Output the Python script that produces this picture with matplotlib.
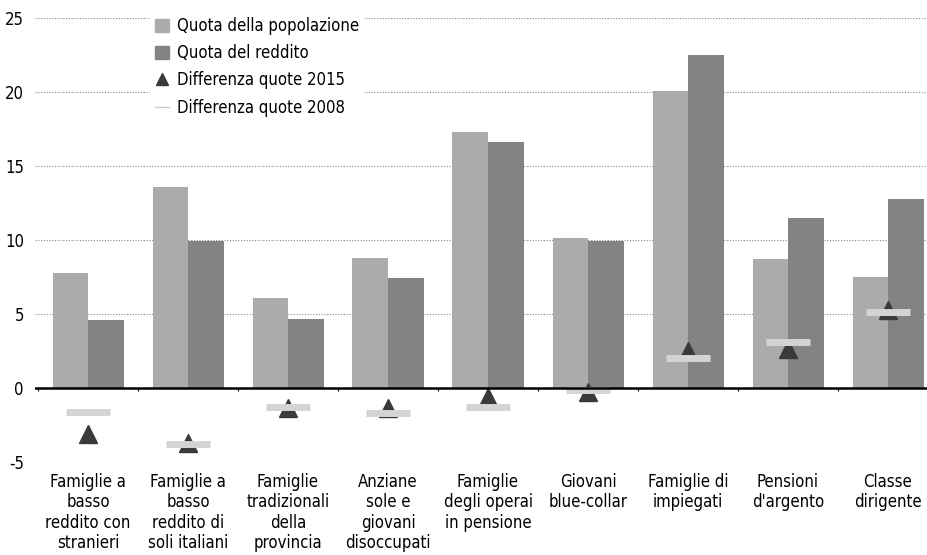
import numpy as np
import matplotlib.pyplot as plt
from matplotlib.lines import Line2D
from matplotlib.patches import Patch

plt.rcParams['font.family'] = ['DejaVu Sans']
plt.rcParams['font.stretch'] = 'condensed'

# data
categories = ["Famiglie a\nbasso\nreddito con\nstranieri",
              "Famiglie a\nbasso\nreddito di\nsoli italiani",
              "Famiglie\ntradizionali\ndella\nprovincia",
              "Anziane\nsole e\ngiovani\ndisoccupati",
              "Famiglie\ndegli operai\nin pensione",
              "Giovani\nblue-collar",
              "Famiglie di\nimpiegati",
              "Pensioni\nd'argento",
              "Classe\ndirigente"]
quota_pop = [7.75, 13.55, 6.05, 8.8, 17.3, 10.15, 20.05, 8.7, 7.5]
quota_redd = [4.6, 9.9, 4.65, 7.45, 16.65, 9.95, 22.5, 11.5, 12.75]
diff_2015 = [-3.1, -3.7, -1.35, -1.35, -0.6, -0.3, 2.5, 2.65, 5.25]
diff_2008 = [-1.6, -3.8, -1.3, -1.7, -1.3, -0.15, 2.05, 3.1, 5.15]

col_pop = "#ababab"
col_redd = "#838383"

fig = plt.figure(figsize=(9.27, 5.55), dpi=100)
ax = fig.add_axes([35 / 927, 1 - 462 / 555, 1 - 35 / 927, (462 - 18) / 555])

x = np.arange(len(categories))
w = 0.355
ax.bar(x - w / 2, quota_pop, width=w, color=col_pop, zorder=2)
ax.bar(x + w / 2, quota_redd, width=w, color=col_redd, zorder=2)

ax.plot(x, diff_2008, linestyle="none", marker="_", markersize=32,
        markeredgewidth=5, color="#d4d4d4", zorder=4)
ax.plot(x, diff_2015, linestyle="none", marker="^", markersize=13,
        color="#3a3a3a", zorder=3)

ax.axhline(0, color="black", linewidth=1.8, zorder=5)
for b in np.arange(-0.5, len(categories) - 0.5):
    ax.vlines(b, -0.22, 0, color="black", linewidth=0.8, zorder=5)

ax.set_xlim(-0.53, 8.39)
ax.set_ylim(-5, 25)
ax.set_yticks([-5, 0, 5, 10, 15, 20, 25])
ax.set_yticklabels(["-5", "0", "5", "10", "15", "20", "25"])
ax.yaxis.grid(True, linestyle=(0, (1, 1.5)), color="#888888", linewidth=0.8, zorder=0)
ax.set_axisbelow(True)
ax.set_xticks(x)
ax.set_xticklabels(categories, fontsize=12, linespacing=1.17)
ax.tick_params(axis="x", length=0, pad=8)
ax.tick_params(axis="y", length=0, pad=8, labelsize=12)
for s in ax.spines.values():
    s.set_visible(False)

handles = [Patch(color=col_pop), Patch(color=col_redd),
           Line2D([], [], linestyle="none", marker="^", markersize=9, color="#3a3a3a"),
           Line2D([], [], color="#cccccc", linewidth=1)]
labels = ["Quota della popolazione", "Quota del reddito",
          "Differenza quote 2015", "Differenza quote 2008"]
leg = ax.legend(handles, labels, loc="upper left", bbox_to_anchor=(0.12, 1.032),
                frameon=True, facecolor="white", edgecolor="none", fontsize=12,
                handlelength=0.8, handleheight=0.8, handletextpad=0.5,
                labelspacing=0.55, borderpad=0.3, framealpha=1)
leg.set_zorder(6)

fig.savefig("out.png", dpi=100)
